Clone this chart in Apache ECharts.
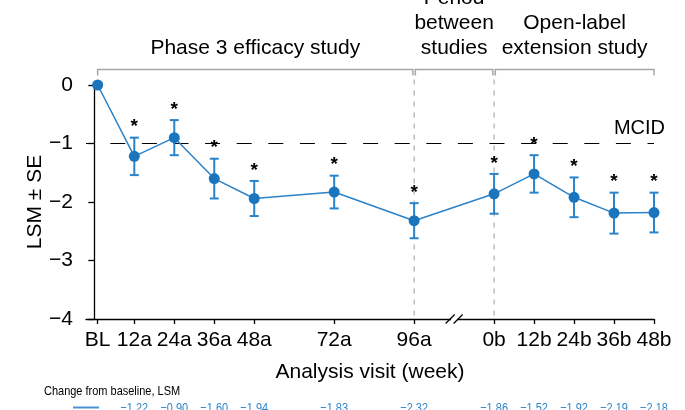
<!DOCTYPE html>
<html>
<head>
<meta charset="utf-8">
<script src="https://cdn.jsdelivr.net/npm/echarts@6/dist/echarts.min.js"></script>
<style>
  html, body { margin: 0; padding: 0; background: #ffffff; }
  #chart { width: 685px; height: 410px; }
</style>
</head>
<body>
<div id="chart"></div>
<script>
// Analysis visits: tick labels and their positions along the week axis (axis is broken between 96a and 0b)
const visitLabels = ['BL', '12a', '24a', '36a', '48a', '72a', '96a', '0b', '12b', '24b', '36b', '48b'];
const visitPos = [1, 12, 24, 36, 48, 72, 96, 120, 132, 144, 156, 168];

// Least-squares mean change from baseline and standard error per visit
const lsm = [0, -1.22, -0.90, -1.60, -1.94, -1.83, -2.32, -1.86, -1.52, -1.92, -2.19, -2.18];
const se = [0, 0.32, 0.30, 0.34, 0.30, 0.28, 0.30, 0.34, 0.32, 0.34, 0.35, 0.34];
const significant = [0, 1, 1, 1, 1, 1, 1, 1, 1, 1, 1, 1];

// Minimal clinically important difference
const mcid = -1;

// Study periods drawn as brackets above the plot
const periodNames = ['Phase 3 efficacy study', 'Period\nbetween\nstudies', 'Open-label\nextension study'];
const periodStart = [1, 96, 120];
const periodEnd = [96, 120, 168];

// Visits where the axis breaks and a dashed separator is drawn
const separators = [96, 120];

const FONT = 'Liberation Sans, Arial, Helvetica, sans-serif';
const BLUE = '#1b75bc';
const BLUE_LINE = '#2a82c8';
const GREY = '#a6a6a6';
const NARROW_SCALE = 0.82;

const fmtMinus = v => (v < 0 ? '\u2212' + Math.abs(v) : String(v));
const fmtValue = v => (v < 0 ? '\u2212' + Math.abs(v).toFixed(2) : v.toFixed(2));

const chart = echarts.init(document.getElementById('chart'), null, { renderer: 'canvas' });

const pointData = visitPos.map((x, i) => [x, lsm[i], se[i], significant[i]]);

chart.setOption({
  animation: false,
  backgroundColor: '#ffffff',
  textStyle: { fontFamily: FONT },
  grid: { left: 86, right: 31, top: 85, bottom: 91, containLabel: false },
  xAxis: {
    type: 'value',
    min: -2.5,
    max: 168,
    name: 'Analysis visit (week)',
    nameLocation: 'middle',
    nameGap: 43,
    nameMoveOverlap: false,
    nameTextStyle: { fontSize: 21, color: '#000', fontFamily: FONT },
    axisLine: { show: true, onZero: false, lineStyle: { color: '#000', width: 1.3 } },
    axisTick: { show: true, length: 5, customValues: visitPos, lineStyle: { color: '#000', width: 1.3 } },
    axisLabel: {
      customValues: visitPos,
      margin: 11,
      fontSize: 21,
      color: '#000',
      fontFamily: FONT,
      formatter: v => visitLabels[visitPos.indexOf(v)] || ''
    },
    splitLine: { show: false }
  },
  yAxis: {
    type: 'value',
    min: -4,
    max: 0,
    interval: 1,
    name: 'LSM \u00b1 SE',
    nameLocation: 'middle',
    nameGap: 40,
    nameMoveOverlap: false,
    nameTextStyle: { fontSize: 21, color: '#000', fontFamily: FONT },
    axisLine: { show: true, lineStyle: { color: '#000', width: 1.3 } },
    axisTick: { show: true, length: 6, lineStyle: { color: '#000', width: 1.3 } },
    axisLabel: { margin: 13, fontSize: 21, color: '#000', fontFamily: FONT, formatter: fmtMinus },
    splitLine: { show: false }
  },
  graphic: [
    {
      type: 'text', x: 44, y: 391, scaleX: NARROW_SCALE,
      style: { text: 'Change from baseline, LSM', font: '13.4px ' + FONT, fill: '#000', verticalAlign: 'middle' }
    },
    {
      type: 'line', shape: { x1: 73, y1: 407.5, x2: 99, y2: 407.5 },
      style: { stroke: '#4a95d3', lineWidth: 2 }
    }
  ],
  series: [
    {
      // Separators, MCID reference, axis break, period brackets
      type: 'custom',
      clip: false,
      silent: true,
      z: 1,
      data: [[0]],
      renderItem: (params, api) => {
        const children = [];
        const y0 = api.coord([0, 0])[1];
        const yBottom = api.coord([0, -4])[1];
        const yBracket = y0 - 15.5;
        // dashed separators
        separators.forEach(s => {
          const x = api.coord([s, 0])[0];
          children.push({
            type: 'line',
            shape: { x1: x, y1: yBracket + 10, x2: x, y2: yBottom },
            style: { stroke: '#9a9a9a', lineWidth: 1, lineDash: [5, 6] }
          });
        });
        // MCID reference line
        const pL = api.coord([-2.5, mcid]);
        const pR = api.coord([visitPos[visitPos.length - 1], mcid]);
        children.push({
          type: 'line',
          shape: { x1: pL[0], y1: pL[1], x2: pR[0], y2: pR[1] },
          style: { stroke: '#000', lineWidth: 1.2, lineDash: [15, 16.6], lineDashOffset: 7.3 }
        });
        children.push({
          type: 'text',
          x: pR[0] + 11, y: pR[1] - 15,
          style: { text: 'MCID', align: 'right', verticalAlign: 'middle', font: '20px ' + FONT, fill: '#000' }
        });
        // axis break mark
        const xb = api.coord([(separators[0] + separators[1]) / 2, -4]);
        children.push({
          type: 'rect',
          shape: { x: xb[0] - 3, y: xb[1] - 2, width: 6, height: 4 },
          style: { fill: '#fff' }
        });
        [-4, 4].forEach(dx => {
          children.push({
            type: 'line',
            shape: { x1: xb[0] + dx - 4.5, y1: xb[1] + 4.5, x2: xb[0] + dx + 4.5, y2: xb[1] - 4.5 },
            style: { stroke: '#000', lineWidth: 1.2 }
          });
        });
        // period brackets and their titles
        periodNames.forEach((name, i) => {
          const xs = api.coord([periodStart[i], 0])[0] + (i > 0 ? 1.2 : 0);
          const xe = api.coord([periodEnd[i], 0])[0] - (i < periodNames.length - 1 ? 1.2 : 0);
          children.push({
            type: 'polyline',
            shape: { points: [[xs, yBracket + 6], [xs, yBracket], [xe, yBracket], [xe, yBracket + 6]] },
            style: { stroke: GREY, lineWidth: 1.5, fill: null }
          });
          children.push({
            type: 'text',
            x: (xs + xe) / 2, y: yBracket - 8.5,
            style: {
              text: name, align: 'center', verticalAlign: 'bottom',
              font: '21px ' + FONT, lineHeight: 25, fill: '#000'
            }
          });
        });
        return { type: 'group', children };
      }
    },
    {
      // Error bars and significance markers
      type: 'custom',
      clip: false,
      silent: true,
      z: 2,
      data: pointData,
      renderItem: (params, api) => {
        const x = api.value(0), y = api.value(1), e = api.value(2), sig = api.value(3);
        const children = [];
        const top = api.coord([x, y + e]);
        const bot = api.coord([x, y - e]);
        if (e > 0) {
          const st = { stroke: BLUE_LINE, lineWidth: 2 };
          children.push({ type: 'line', shape: { x1: top[0], y1: top[1], x2: bot[0], y2: bot[1] }, style: st });
          children.push({ type: 'line', shape: { x1: top[0] - 4.5, y1: top[1], x2: top[0] + 4.5, y2: top[1] }, style: st });
          children.push({ type: 'line', shape: { x1: bot[0] - 4.5, y1: bot[1], x2: bot[0] + 4.5, y2: bot[1] }, style: st });
        }
        if (sig) {
          children.push({
            type: 'text', x: top[0], y: top[1] - 1,
            style: { text: '*', align: 'center', verticalAlign: 'bottom', font: 'bold 19px ' + FONT, fill: '#000' }
          });
        }
        // value row below the axis
        if (x !== visitPos[0]) {
          const base = api.coord([x, -4]);
          children.push({
            type: 'text', x: base[0], y: base[1] + 89, scaleX: NARROW_SCALE,
            style: { text: fmtValue(y), align: 'center', verticalAlign: 'middle', font: '13.4px ' + FONT, fill: '#2f85c8' }
          });
        }
        return { type: 'group', children };
      }
    },
    {
      type: 'line',
      z: 3,
      data: pointData.map(d => [d[0], d[1]]),
      symbol: 'circle',
      symbolSize: 11,
      lineStyle: { color: BLUE_LINE, width: 1.5 },
      itemStyle: { color: BLUE },
      emphasis: { disabled: true }
    }
  ]
});
</script>
</body>
</html>
